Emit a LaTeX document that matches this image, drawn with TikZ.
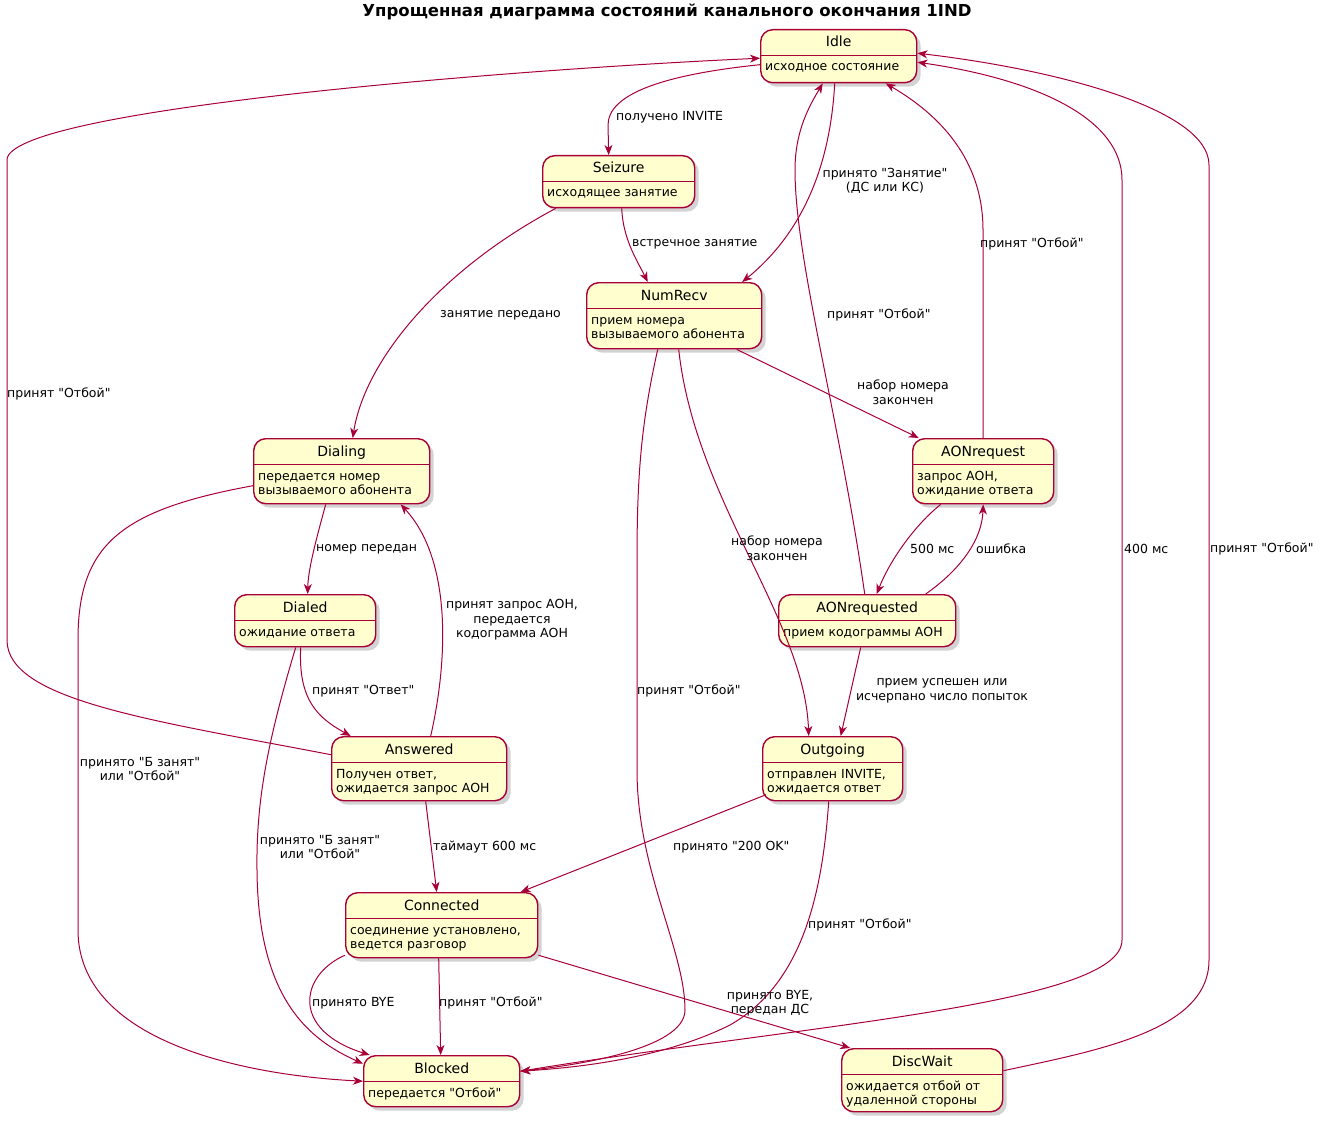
\documentclass[tikz,border=0pt]{standalone}
\usepackage{fontspec}
\setmainfont{DejaVu Sans}[Ligatures=TeXOff]
\usetikzlibrary{positioning,arrows.meta,shadows}
\definecolor{umlred}{HTML}{A80036}
\definecolor{umlfill}{HTML}{FEFECE}

% state box: name, x, y (top left), width, height, title, text
\newcommand{\umlstate}[7]{%
  \node[statebox, minimum width=#4pt, minimum height=#5pt] (#1) at (#2,#3) {};
  \draw[statebar] ([yshift=-26.5pt]#1.north west) -- ([yshift=-26.5pt]#1.north east);
  \node[statename] (#1-t) at ([yshift=-18pt]#1.north) {#6};
  \node[statedesc] (#1-d) at ([xshift=5pt,yshift=-32pt]#1.north west) {\strut #7};
}

\tikzset{
  statebox/.style={anchor=north west, draw=umlred, fill=umlfill, line width=1.4pt,
    rounded corners=12pt, inner sep=0pt,
    drop shadow={opacity=0.35, shadow xshift=4pt, shadow yshift=-4pt}},
  statebar/.style={draw=umlred, line width=1.2pt},
  statename/.style={anchor=base, inner sep=0pt, font=\fontsize{14}{16}\selectfont},
  statedesc/.style={anchor=north west, inner sep=0pt, align=left, font=\fontsize{12.5}{14}\selectfont},
  lbl/.style={inner sep=0pt, align=center, font=\fontsize{12.5}{14.5}\selectfont},
  edge/.style={draw=umlred, line width=1pt, -{Stealth[length=10pt,width=8pt,inset=3pt]}}
}

\begin{document}
\begin{tikzpicture}[x=1pt, y=-1pt]
\useasboundingbox (0,0) rectangle (1327,1123);
\node[font=\fontsize{16.5}{19}\selectfont\bfseries] (title) at (667,12) {Упрощенная диаграмма состояний канального окончания 1IND};

% states
\umlstate{idle}{760}{29}{156}{53}{Idle}{исходное состояние}
\umlstate{seizure}{542}{155}{152}{52}{Seizure}{исходящее занятие}
\umlstate{numrecv}{586}{282}{175}{66}{NumRecv}{прием номера\\вызываемого абонента}
\umlstate{dialing}{253}{438}{176}{65}{Dialing}{передается номер\\вызываемого абонента}
\umlstate{aonreq}{912}{438}{141}{65}{AONrequest}{запрос АОН,\\ожидание ответа}
\umlstate{dialed}{234}{594}{141}{52}{Dialed}{ожидание ответа}
\umlstate{aonrecv}{778}{594}{177}{52}{AONrequested}{прием кодограммы АОН}
\umlstate{answered}{331}{736}{175}{64}{Answered}{Получен ответ,\\ожидается запрос АОН}
\umlstate{outgoing}{762}{736}{140}{64}{Outgoing}{отправлен INVITE,\\ожидается ответ}
\umlstate{connected}{345}{892}{192}{65}{Connected}{соединение установлено,\\ведется разговор}
\umlstate{blocked}{363}{1055}{156}{51}{Blocked}{передается "Отбой"}
\umlstate{discwait}{841}{1048}{161}{63}{DiscWait}{ожидается отбой от\\удаленной стороны}

% transitions
\draw[edge] ([yshift=-8.5pt]idle.west) .. controls (660,75) and (608,95) .. (608,125) -- ([xshift=-10pt]seizure.north);
\draw[edge] ([xshift=-4pt]idle.south) .. controls (830,170) and (800,235) .. ([xshift=68pt]numrecv.north);
\draw[edge] ([xshift=3pt]seizure.south) .. controls (623,240) and (638,262) .. ([xshift=-26.5pt]numrecv.north);
\draw[edge] ([xshift=-63pt]seizure.south) .. controls (440,270) and (365,360) .. ([xshift=11pt]dialing.north);
\draw[edge] ([xshift=62.5pt]numrecv.south) -- ([xshift=-64.5pt]aonreq.north);
\draw[edge] ([xshift=4.5pt]numrecv.south) .. controls (695,500) and (805,620) .. ([xshift=-24pt]outgoing.north);
\draw[edge] ([xshift=-16.5pt]numrecv.south) .. controls (642,420) and (637,470) .. (637,560) -- (637,770)
  .. controls (637,870) and (685,950) .. (685,1010) .. controls (685,1050) and (570,1066) .. ([yshift=10pt]blocked.east);
\draw[edge] (aonreq.north) -- (983,230) .. controls (983,160) and (940,115) .. ([xshift=47pt]idle.south);
\draw[edge] ([xshift=-42.5pt]aonreq.south) .. controls (915,525) and (890,560) .. ([xshift=9.5pt]aonrecv.north);
\draw[edge] ([xshift=58.5pt]aonrecv.north) .. controls (960,570) and (982,540) .. (aonreq.south);
\draw[edge] ([xshift=-2.5pt]aonrecv.north) .. controls (840,420) and (795,260) .. (795,170)
  .. controls (795,130) and (810,105) .. ([xshift=-16pt]idle.south);
\draw[edge] ([xshift=-6.5pt]aonrecv.south) -- ([xshift=8pt]outgoing.north);
\draw[edge] ([xshift=-16pt]dialing.south) .. controls (316,540) and (308,570) .. ([xshift=2.5pt]dialed.north);
\draw[edge] ([yshift=-14.5pt]dialing.west) .. controls (120,510) and (78,545) .. (78,640) -- (78,930)
  .. controls (78,1040) and (240,1075) .. (blocked.west);
\draw[edge] ([xshift=-4.5pt]dialed.south) .. controls (298,700) and (318,718) .. ([xshift=-68.5pt]answered.north);
\draw[edge] ([xshift=-9.5pt]dialed.south) .. controls (268,740) and (256,800) .. (257,870)
  .. controls (258,1000) and (310,1040) .. ([yshift=17.5pt]blocked.west);
\draw[edge] ([xshift=11.5pt]answered.north) .. controls (448,660) and (452,560) .. ([xshift=59pt]dialing.south);
\draw[edge] ([yshift=14pt]answered.west) .. controls (150,720) and (7,700) .. (7,640) -- (7,160)
  .. controls (7,110) and (500,70) .. ([yshift=-2pt]idle.west);
\draw[edge] ([xshift=6.5pt]answered.south) -- ([xshift=-5pt]connected.north);
\draw[edge] ([xshift=4pt,yshift=-26pt]outgoing.west) -- ([xshift=79pt]connected.north);
\draw[edge] ([xshift=-4pt]outgoing.south) .. controls (822,900) and (800,985) .. (730,1025)
  .. controls (660,1060) and (570,1068) .. ([yshift=10pt]blocked.east);
\draw[edge] ([yshift=-30pt]connected.west) .. controls (300,975) and (290,1030) .. ([xshift=-72pt]blocked.north);
\draw[edge] ([xshift=-3pt]connected.south) -- ([xshift=-1pt]blocked.north);
\draw[edge] ([yshift=-30pt]connected.east) -- ([xshift=-72pt]discwait.north);
\draw[edge] ([yshift=9.5pt]discwait.east) .. controls (1100,1050) and (1209,1030) .. (1209,960) -- (1209,165)
  .. controls (1209,110) and (1060,70) .. ([yshift=3pt]idle.east);
\draw[edge] ([yshift=10pt]blocked.east) .. controls (800,1025) and (1122,1005) .. (1122,940) -- (1122,180)
  .. controls (1122,120) and (1040,80) .. ([yshift=-6pt]idle.east);

% labels
\node[lbl, anchor=west] (l1) at (616,117) {получено INVITE};
\node[lbl] (l2) at (885,181) {принято "Занятие"\\(ДС или КС)};
\node[lbl, anchor=west] (l3) at (632,244) {встречное занятие};
\node[lbl, anchor=west] (l4) at (440,315) {занятие передано};
\node[lbl] (l5) at (903,392) {набор номера\\закончен};
\node[lbl] (l6) at (777,548) {набор номера\\закончен};
\node[lbl, anchor=west] (l7) at (637,691) {принят "Отбой"};
\node[lbl, anchor=west] (l8) at (980,244) {принят "Отбой"};
\node[lbl, anchor=west] (l9) at (910,549) {500 мс};
\node[lbl, anchor=west] (l10) at (976,549) {ошибка};
\node[lbl, anchor=west] (l11) at (827,315) {принят "Отбой"};
\node[lbl] (l12) at (942,691) {прием успешен или\\исчерпано число попыток};
\node[lbl, anchor=west] (l13) at (316,549) {номер передан};
\node[lbl] (l14) at (140,769) {принято "Б занят"\\или "Отбой"};
\node[lbl, anchor=west] (l15) at (312,691) {принят "Ответ"};
\node[lbl] (l16) at (320,847) {принято "Б занят"\\или "Отбой"};
\node[lbl] (l17) at (512,620) {принят запрос АОН,\\передается\\кодограмма АОН};
\node[lbl, anchor=west] (l18) at (7,394) {принят "Отбой"};
\node[lbl, anchor=west] (l19) at (433,847) {таймаут 600 мс};
\node[lbl, anchor=west] (l20) at (673,847) {принято "200 OK"};
\node[lbl, anchor=west] (l21) at (808,925) {принят "Отбой"};
\node[lbl, anchor=west] (l22) at (312,1003) {принято BYE};
\node[lbl, anchor=west] (l23) at (439,1003) {принят "Отбой"};
\node[lbl] (l24) at (770,1003) {принято BYE,\\передан ДС};
\node[lbl, anchor=west] (l25) at (1210,549) {принят "Отбой"};
\node[lbl, anchor=west] (l26) at (1124,549) {400 мс};
\end{tikzpicture}
\end{document}
